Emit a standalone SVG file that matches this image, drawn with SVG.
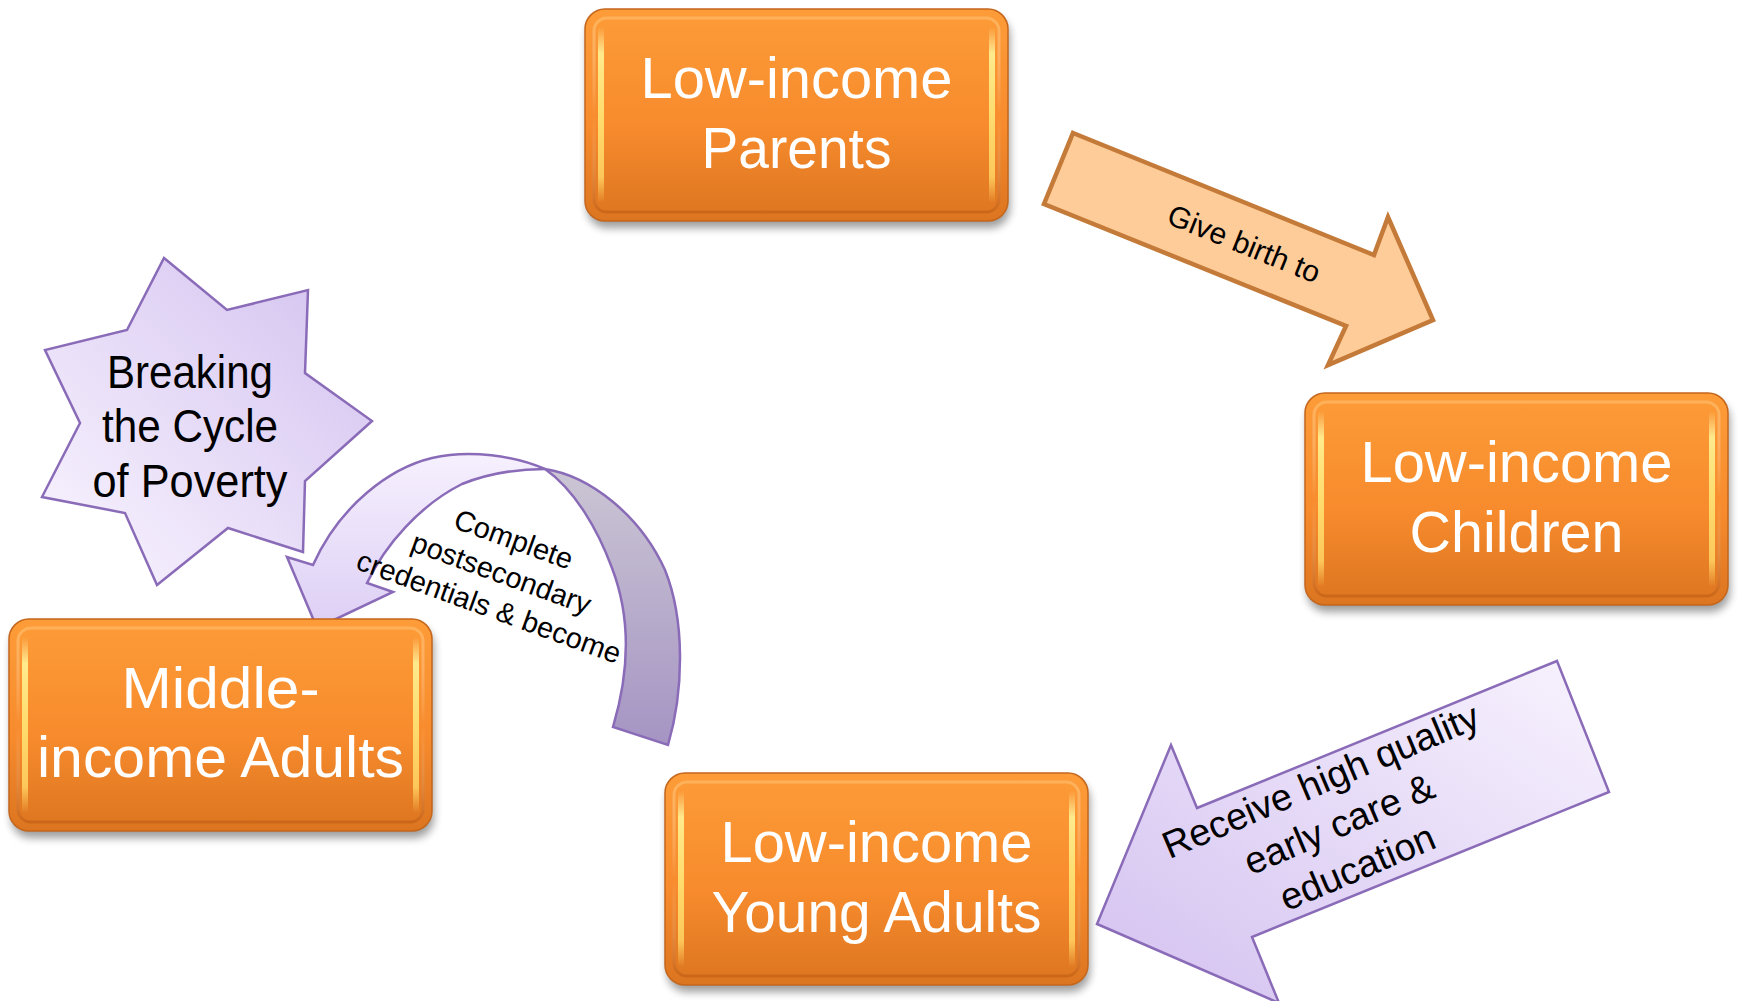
<svg xmlns="http://www.w3.org/2000/svg" width="1738" height="1001" viewBox="0 0 1738 1001">
<style>
.box{fill:url(#gOrange);stroke:#c4661c;stroke-width:1.5}
.shadow{fill:#000;opacity:.38}
.bevel{fill:none;stroke:url(#gBevel);stroke-width:3}
.hl{fill:url(#gHl)}
.bt{font-family:"Liberation Sans",Arial,sans-serif;font-size:57px;fill:#fff;text-anchor:middle}
.lbl{font-family:"Liberation Sans",Arial,sans-serif;fill:#000;text-anchor:middle}
.purple{stroke:#8a6bb8;stroke-width:2.5;stroke-linejoin:miter}
.peach{fill:#fecc98;stroke:#c47a38;stroke-width:4.5;stroke-linejoin:miter}
</style>
<defs>
<linearGradient id="gOrange" x1="0" y1="0" x2="0" y2="1">
<stop offset="0" stop-color="#fd9c38"/><stop offset="0.55" stop-color="#f78b2d"/><stop offset="1" stop-color="#dc7520"/>
</linearGradient>
<linearGradient id="gBevel" x1="0" y1="0" x2="0" y2="1">
<stop offset="0" stop-color="#ffc070" stop-opacity="0.6"/><stop offset="0.5" stop-color="#ffffff" stop-opacity="0"/><stop offset="1" stop-color="#b8560f" stop-opacity="0.5"/>
</linearGradient>
<linearGradient id="gHl" x1="0" y1="0" x2="0" y2="1">
<stop offset="0" stop-color="#ffe9a0" stop-opacity="0"/><stop offset="0.15" stop-color="#ffea8c"/><stop offset="0.5" stop-color="#ffdc6e"/><stop offset="0.85" stop-color="#ffcf60" stop-opacity="0.9"/><stop offset="1" stop-color="#ffcf60" stop-opacity="0"/>
</linearGradient>
<linearGradient id="gStar" x1="0" y1="1" x2="1" y2="0">
<stop offset="0" stop-color="#faf6ff"/><stop offset="1" stop-color="#d2c0ef"/>
</linearGradient>
<linearGradient id="gRecv" x1="1" y1="0" x2="0" y2="1">
<stop offset="0" stop-color="#f8f3fe"/><stop offset="1" stop-color="#d3c1f0"/>
</linearGradient>
<linearGradient id="gLight" x1="0" y1="0" x2="0" y2="1">
<stop offset="0" stop-color="#f6f0fe"/><stop offset="1" stop-color="#ddcff5"/>
</linearGradient>
<linearGradient id="gDark" x1="0" y1="0" x2="0" y2="1">
<stop offset="0" stop-color="#cbc6d4"/><stop offset="1" stop-color="#a594c3"/>
</linearGradient>
<filter id="sh" x="-10%" y="-10%" width="120%" height="130%"><feGaussianBlur stdDeviation="4"/></filter>
</defs>

<g id="star-breaking">
<polygon class="purple" fill="url(#gStar)" points="164,258 227,310 308,290 305,373 372,421 305,481 303,552 228,528 157,585 125,513 42,497 80,423 45,350 127,330"/>
<text class="lbl" font-size="46" x="190" y="388" textLength="166" lengthAdjust="spacingAndGlyphs">Breaking</text>
<text class="lbl" font-size="46" x="190" y="442" textLength="176" lengthAdjust="spacingAndGlyphs">the Cycle</text>
<text class="lbl" font-size="46" x="190" y="497" textLength="195" lengthAdjust="spacingAndGlyphs">of Poverty</text>
</g>

<g id="connectors">
<g id="arrow-complete">
<path class="purple" fill="url(#gDark)" d="M545,469 C590,476 640,515 665,570 C685,620 684,690 668,745 L613,727 C630,670 630,615 612,568 C598,530 575,490 545,469 Z"/>
<path class="purple" fill="url(#gLight)" d="M545,469 C515,456 470,449 432,458 C390,468 340,505 313,565 L287,557 L317,628 L393,592 L367,583 C385,545 420,505 462,484 C492,472 520,469 545,469 Z"/>
</g>
<g id="arrow-give-birth">
<polygon class="peach" points="1073,133 1374,255 1388,217 1433,320 1328,365 1346,326 1044,204"/>
<text class="lbl" font-size="30" transform="translate(1244,244) rotate(22)" x="0" y="10">Give birth to</text>
</g>
<g id="arrow-receive">
<polygon class="purple" fill="url(#gRecv)" points="1557,661 1609,792 1252,937 1279,1003 1097,924 1171,745 1197,808"/>
<g transform="translate(1339,824) rotate(-23)">
<text class="lbl" font-size="38" x="0" y="-34">Receive high quality</text>
<text class="lbl" font-size="38" x="0" y="13">early care &amp;</text>
<text class="lbl" font-size="38" x="0" y="60">education</text>
</g>
</g>
</g>

<g id="node-parents" transform="translate(585,9)">
<rect class="shadow" x="2" y="7" width="423" height="212" rx="20" filter="url(#sh)"/>
<rect class="box" width="423" height="212" rx="20"/>
<rect class="bevel" x="9" y="9" width="405" height="194" rx="13"/>
<rect class="hl" x="13" y="18" width="6" height="176" rx="3"/>
<rect class="hl" x="404" y="18" width="6" height="176" rx="3"/>
<text class="bt" x="211.5" y="89" textLength="312" lengthAdjust="spacingAndGlyphs">Low-income</text>
<text class="bt" x="211.5" y="159" textLength="190" lengthAdjust="spacingAndGlyphs">Parents</text>
</g>

<g id="node-children" transform="translate(1305,393)">
<rect class="shadow" x="2" y="7" width="423" height="212" rx="20" filter="url(#sh)"/>
<rect class="box" width="423" height="212" rx="20"/>
<rect class="bevel" x="9" y="9" width="405" height="194" rx="13"/>
<rect class="hl" x="13" y="18" width="6" height="176" rx="3"/>
<rect class="hl" x="404" y="18" width="6" height="176" rx="3"/>
<text class="bt" x="211.5" y="89" textLength="312" lengthAdjust="spacingAndGlyphs">Low-income</text>
<text class="bt" x="211.5" y="159" textLength="214" lengthAdjust="spacingAndGlyphs">Children</text>
</g>

<g id="node-young-adults" transform="translate(665,773)">
<rect class="shadow" x="2" y="7" width="423" height="212" rx="20" filter="url(#sh)"/>
<rect class="box" width="423" height="212" rx="20"/>
<rect class="bevel" x="9" y="9" width="405" height="194" rx="13"/>
<rect class="hl" x="13" y="18" width="6" height="176" rx="3"/>
<rect class="hl" x="404" y="18" width="6" height="176" rx="3"/>
<text class="bt" x="211.5" y="89" textLength="312" lengthAdjust="spacingAndGlyphs">Low-income</text>
<text class="bt" x="211.5" y="159" textLength="330" lengthAdjust="spacingAndGlyphs">Young Adults</text>
</g>

<g id="node-middle-adults" transform="translate(9,619)">
<rect class="shadow" x="2" y="7" width="423" height="212" rx="20" filter="url(#sh)"/>
<rect class="box" width="423" height="212" rx="20"/>
<rect class="bevel" x="9" y="9" width="405" height="194" rx="13"/>
<rect class="hl" x="13" y="18" width="6" height="176" rx="3"/>
<rect class="hl" x="404" y="18" width="6" height="176" rx="3"/>
<text class="bt" x="211.5" y="89" textLength="198" lengthAdjust="spacingAndGlyphs">Middle-</text>
<text class="bt" x="211.5" y="158" textLength="367" lengthAdjust="spacingAndGlyphs">income Adults</text>
</g>

<g id="connector-labels">
<g transform="translate(501,574) rotate(20)">
<text class="lbl" font-size="29" x="0" y="-27">Complete</text>
<text class="lbl" font-size="29" x="0" y="9">postsecondary</text>
<text class="lbl" font-size="29" x="0" y="45">credentials &amp; become</text>
</g>
</g>
</svg>
